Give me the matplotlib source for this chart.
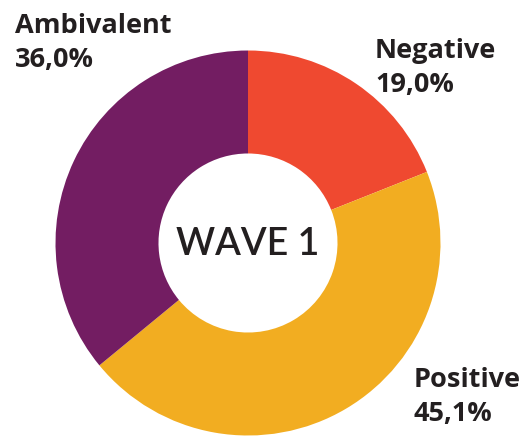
import matplotlib
matplotlib.use("Agg")
import matplotlib.pyplot as plt

categories = ["Negative", "Positive", "Ambivalent"]
values = [19.0, 45.1, 36.0]
value_labels = ["19,0%", "45,1%", "36,0%"]
colors = ["#EF4930", "#F2AD21", "#731D62"]
center_label = "WAVE 1"

W, H = 527, 436
fig = plt.figure(figsize=(W / 100, H / 100), dpi=100)
cx, cy, R = 248, 243, 192.5
ax = fig.add_axes([(cx - R) / W, (H - cy - R) / H, 2 * R / W, 2 * R / H])
ax.pie(values, colors=colors, startangle=90, counterclock=False,
       radius=1.0, wedgeprops=dict(width=0.535, edgecolor="none"))
ax.set_xlim(-1, 1)
ax.set_ylim(-1, 1)
ax.set_aspect("equal")
ax.axis("off")

txt = "#231F20"
lab_font = ["Open Sans", "DejaVu Sans"]
font = ["Lato", "DejaVu Sans"]

def ftext(x, y, s, **kw):
    fig.text(x / W, 1 - y / H, s, color=txt, va="baseline", **kw)

# label positions (pixels: left x, baseline y of first line)
pos = {"Negative": (375, 58), "Positive": (414, 387), "Ambivalent": (15, 33)}
for cat, vl in zip(categories, value_labels):
    x, y = pos[cat]
    ftext(x, y, cat, fontsize=19.5, fontweight="bold", family=lab_font)
    ftext(x, y + 34, vl, fontsize=19.5, fontweight="bold", family=lab_font)

fig.text(cx / W, 1 - 255 / H, center_label, color=txt, family=font,
         fontsize=27, fontweight="semibold", ha="center", va="baseline")

fig.savefig("out.png", dpi=100)
